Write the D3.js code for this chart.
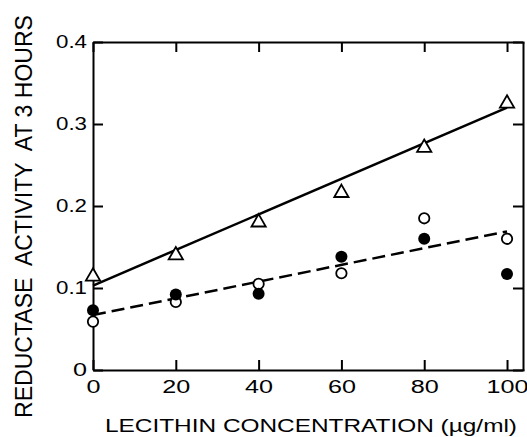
<!DOCTYPE html>
<html>
<head>
<meta charset="utf-8">
<script src="https://cdn.jsdelivr.net/npm/d3@7"></script>
<style>
  body { margin: 0; background: #fff; }
  svg { display: block; }
  text { font-family: "Liberation Sans", Arial, sans-serif; fill: #000; }
</style>
</head>
<body>
<div id="chart"></div>
<script>
// Data
const concentrations = [0, 20, 40, 60, 80, 100];
const triangleValues = [0.114, 0.140, 0.180, 0.216, 0.271, 0.325];
const filledValues = [0.073, 0.092, 0.093, 0.138, 0.160, 0.117];
const openValues = [0.059, 0.083, 0.105, 0.118, 0.185, 0.160];
// fitted lines (end points)
const solidFit = [[0, 0.103], [100, 0.320]];
const dashedFit = [[0, 0.067], [100, 0.169]];

const xTicks = [0, 20, 40, 60, 80, 100];
const yTicks = [0, 0.1, 0.2, 0.3, 0.4];
const yTickLabels = ["0", "0.1", "0.2", "0.3", "0.4"];
const xTitle = "LECITHIN CONCENTRATION (\u00b5g/ml)";
const yTitle = "REDUCTASE  ACTIVITY  AT 3 HOURS";

const width = 527;
const height = 437;
const margin = { top: 42, right: 3, bottom: 67, left: 93 };

const svg = d3.select("#chart")
    .append("svg")
    .attr("width", width)
    .attr("height", height);

// Scales
const x = d3.scaleLinear()
    .domain([0, 104.1])
    .range([margin.left, width - margin.right]);
const y = d3.scaleLinear()
    .domain([0, 0.4])
    .range([height - margin.bottom, margin.top]);

const tickLen = 10;

// Axes (ticks point inward on all four sides)
const axisStyle = g => {
    g.select(".domain").attr("stroke", "#000").attr("stroke-width", 2);
    g.selectAll(".tick line").attr("stroke", "#000").attr("stroke-width", 2);
};

// the original digits are wide and round, so stretch the labels a bit
const wideLabels = g => g.selectAll(".tick text")
    .attr("font-size", 18)
    .attr("font-family", null)
    .attr("lengthAdjust", "spacingAndGlyphs")
    .attr("textLength", function() {
        const s = this.textContent;
        const digits = s.replace(".", "").length;
        return digits * 14 + (s.includes(".") ? 3 : 0);
    });

svg.append("g")
    .attr("transform", `translate(0,${y(0)})`)
    .call(d3.axisBottom(x).tickValues(xTicks).tickSizeInner(-tickLen).tickSizeOuter(0).tickPadding(10))
    .call(axisStyle)
    .call(wideLabels);

svg.append("g")
    .attr("transform", `translate(0,${y(0.4)})`)
    .call(d3.axisTop(x).tickValues(xTicks).tickSizeInner(-tickLen).tickSizeOuter(0).tickFormat(""))
    .call(axisStyle);

svg.append("g")
    .attr("transform", `translate(${x(0)},0)`)
    .call(d3.axisLeft(y).tickValues(yTicks).tickSizeInner(-tickLen).tickSizeOuter(0).tickPadding(6)
        .tickFormat((d, i) => yTickLabels[i]))
    .call(axisStyle)
    .call(wideLabels);

svg.append("g")
    .attr("transform", `translate(${x(104.1) - 1},0)`)
    .call(d3.axisRight(y).tickValues(yTicks).tickSizeInner(-tickLen).tickSizeOuter(0).tickFormat(""))
    .call(axisStyle);

// Fitted lines
const line = d3.line().x(d => x(d[0])).y(d => y(d[1]));

svg.append("path")
    .datum(solidFit)
    .attr("d", line)
    .attr("fill", "none")
    .attr("stroke", "#000")
    .attr("stroke-width", 2.5);

svg.append("path")
    .datum(dashedFit)
    .attr("d", line)
    .attr("fill", "none")
    .attr("stroke", "#000")
    .attr("stroke-width", 2.5)
    .attr("stroke-dasharray", "13,6");

// Triangles
svg.selectAll(".tri")
    .data(concentrations)
    .enter().append("path")
    .attr("class", "tri")
    .attr("d", d3.symbol().type(d3.symbolTriangle).size(88))
    .attr("transform", (d, i) => `translate(${x(d)},${y(triangleValues[i])})`)
    .attr("fill", "#fff")
    .attr("stroke", "#000")
    .attr("stroke-width", 1.8);

// Open circles
svg.selectAll(".open")
    .data(concentrations)
    .enter().append("circle")
    .attr("class", "open")
    .attr("cx", d => x(d))
    .attr("cy", (d, i) => y(openValues[i]))
    .attr("r", 5.2)
    .attr("fill", "#fff")
    .attr("stroke", "#000")
    .attr("stroke-width", 1.8);

// Filled circles
svg.selectAll(".filled")
    .data(concentrations)
    .enter().append("circle")
    .attr("class", "filled")
    .attr("cx", d => x(d))
    .attr("cy", (d, i) => y(filledValues[i]))
    .attr("r", 6)
    .attr("fill", "#000");

// Axis titles
svg.append("text")
    .attr("x", 105)
    .attr("y", 432)
    .attr("font-size", 18)
    .attr("textLength", 412)
    .attr("lengthAdjust", "spacingAndGlyphs")
    .text(xTitle);

svg.append("text")
    .attr("transform", "translate(32,418) rotate(-90)")
    .attr("font-size", 23)
    .attr("textLength", 403)
    .attr("lengthAdjust", "spacingAndGlyphs")
    .attr("xml:space", "preserve")
    .style("white-space", "pre")
    .text(yTitle);
</script>
</body>
</html>
